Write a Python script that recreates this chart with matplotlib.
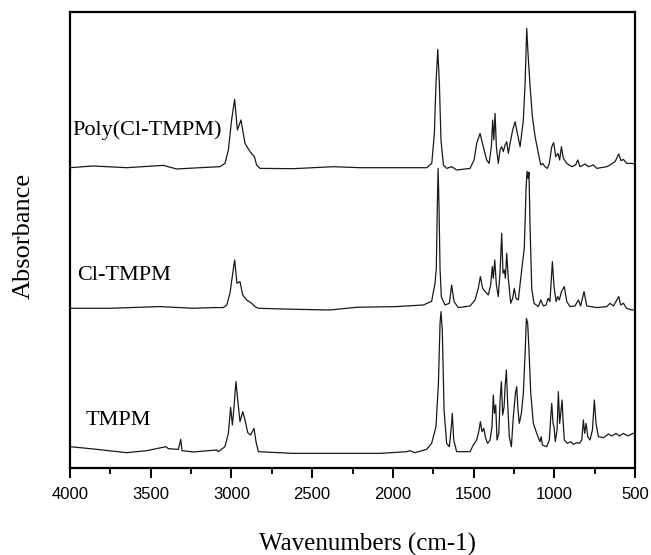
import matplotlib
matplotlib.use('Agg')
from matplotlib import pyplot as plt
from matplotlib.ticker import MultipleLocator

# values: wavenumber (cm-1) and absorbance above each baseline
poly_wn = [4000, 3856, 3649, 3422, 3339, 3195, 3071, 3040, 3019, 2999, 2980, 2963, 2941,
           2916, 2885, 2858, 2844, 2823, 2617, 2369, 2204, 2080, 1790, 1759, 1743, 1733,
           1722, 1712, 1702, 1687, 1667, 1636, 1605, 1522, 1497, 1481, 1460, 1440, 1419,
           1404, 1390, 1382, 1375, 1367, 1359, 1347, 1336, 1326, 1316, 1305, 1295, 1285,
           1270, 1258, 1243, 1229, 1212, 1202, 1192, 1181, 1171, 1163, 1150, 1136, 1119,
           1099, 1084, 1072, 1058, 1043, 1031, 1016, 1004, 991, 977, 967, 956, 944, 923,
           892, 868, 855, 841, 820, 810, 789, 758, 737, 675, 655, 624, 601, 587, 572, 552,
           521, 500]
poly_abs = [0, 1.7, 0, 2.3, -1.3, 0, 1, 4.3, 17.7, 47.7, 68.3, 37.7, 47.7,
            24.3, 16, 11, 2.7, -0.7, -1, 1, 0, 0, 0, 4.3, 34.3, 84.3,
            118.3, 84.3, 27.7, 2.7, -0.7, 1, -2.3, -0.7, 7.7, 24.3, 34.3, 21, 7.7,
            4.3, 21, 47.7, 27.7, 54.3, 21, 4.3, 17.7, 21, 16, 22.7, 26, 14.3,
            27.7, 37.7, 46, 34.3, 21, 34.3, 47.7, 84.3, 139.3, 114.3, 81, 51, 31,
            14.3, 2.7, 4.3, 1, -0.7, 4.3, 21, 25, 11, 14.3, 7.7, 21, 9.3, 4.3,
            1, 2.7, 7.7, 1, 2.7, 3.7, 1, 2.7, -0.7, 1, 2.7, 6, 13.7, 7, 8.3, 4.3,
            4.3, 3.7]

cl_wn = [4000, 3752, 3443, 3236, 3112, 3050, 3029, 3009, 2992, 2980, 2966, 2947, 2930,
         2906, 2875, 2854, 2833, 2617, 2389, 2224, 1976, 1811, 1760, 1739, 1731, 1725,
         1720, 1714, 1708, 1700, 1696, 1677, 1650, 1636, 1621, 1595, 1522, 1491, 1471,
         1458, 1444, 1429, 1409, 1394, 1384, 1378, 1369, 1359, 1347, 1336, 1326, 1318,
         1310, 1303, 1295, 1285, 1270, 1258, 1248, 1237, 1223, 1208, 1196, 1186, 1175,
         1169, 1163, 1157, 1150, 1140, 1126, 1099, 1084, 1068, 1051, 1039, 1027, 1012,
         1002, 989, 979, 969, 956, 938, 923, 903, 872, 851, 837, 816, 799, 737, 675,
         655, 634, 601, 589, 572, 552, 521, 500]
cl_abs = [0, 0, 1.7, 0, 0.7, 0.7, 3.3, 15, 35, 48.3, 25, 26.7, 13.3,
          8.3, 5, 1.7, 0, -1, -1.7, 1, 1.7, 3.3, 7, 25, 40, 100,
          140, 100, 40, 12, 10, 3.3, 5, 23.3, 6.7, 0.7, 2.3, 8.3, 20,
          31.7, 20, 16.7, 13.3, 23.3, 41.7, 30, 48.3, 23.3, 11.7, 36.7, 75, 35,
          38.3, 30, 55, 30, 5, 10, 20, 10, 8.3, 30, 46.7, 60, 120,
          137, 130, 136, 80, 20, 5, 1.7, 8.3, 2.3, 3.3, 10, 6.7, 46.7,
          21.7, 6.7, 11.7, 8.3, 16.7, 21.7, 6.7, 1.7, 2.3, 8.3, 2.3, 16.7, 2.3, 0.7, 1.7,
          5, 2.3, 11.7, 3.3, 5, 0, -1.7, -1.7]

tmpm_wn = [4000, 3856, 3649, 3525, 3405, 3391, 3329, 3314, 3306, 3236, 3091, 3081, 3040,
           3019, 3005, 2994, 2984, 2972, 2961, 2947, 2930, 2916, 2899, 2881, 2860, 2848,
           2833, 2617, 2389, 2080, 1914, 1894, 1863, 1791, 1760, 1733, 1718, 1708, 1702,
           1694, 1683, 1667, 1650, 1638, 1632, 1623, 1605, 1522, 1502, 1481, 1468, 1458,
           1448, 1437, 1425, 1413, 1398, 1386, 1378, 1371, 1363, 1355, 1344, 1336, 1328,
           1320, 1311, 1305, 1297, 1289, 1279, 1266, 1254, 1241, 1233, 1225, 1217, 1204,
           1192, 1181, 1173, 1165, 1157, 1146, 1130, 1109, 1089, 1081, 1074, 1047, 1031,
           1022, 1016, 1008, 1002, 994, 983, 975, 967, 958, 952, 946, 938, 919, 898, 882,
           861, 845, 830, 820, 812, 803, 793, 779, 764, 752, 742, 727, 696, 665, 644, 618,
           597, 572, 545, 521, 500]
tmpm_abs = [6, 3.7, 0, 2, 6, 4, 3.3, 13.3, 2, 0.7, 2.7, 1, 6,
            19.3, 45.3, 27.7, 46, 71, 52.7, 31, 41, 32.7, 20, 17.7, 24.3, 11,
            1, -0.7, -0.7, -0.7, 1, 2, 0, 3.3, 9.3, 26, 69, 129, 141,
            122.7, 42.7, 9.3, 6, 26, 39.3, 12.7, 1, 1, 7.7, 12.7, 21, 31,
            21, 24.3, 14.3, 9.3, 12.7, 26, 57.7, 39.3, 47.7, 12.7, 19.3, 52.7, 71,
            37.7, 46, 66, 82.7, 49.3, 16, 6, 36, 59.3, 66, 42.7, 29.3, 39.3,
            59.3, 99.3, 134.3, 129.3, 102.7, 59.3, 29.3, 19.3, 11, 16, 7.7, 6, 12.7,
            36, 49.3, 29.3, 26, 11, 22.7, 61, 29.3, 42.7, 52.7, 32.7, 12.7, 9.3, 11, 8.3,
            10, 9.3, 12.7, 32.7, 19.3, 29.3, 16, 12.7, 22.7, 52.7, 29.3, 16, 15, 18.7, 16.7, 19.3,
            16.7, 19.3, 16.7, 18.7, 20]

names = ['Poly(Cl-TMPM)', 'Cl-TMPM', 'TMPM']

fig = plt.figure(figsize=(6.51, 5.55), dpi=100)
ax = fig.add_axes([0.1075, 0.1568, 0.868, 0.8207])

# stack the three spectra
offsets = [299.3, 158.7, 14.3]
spectra = [(poly_wn, poly_abs), (cl_wn, cl_abs), (tmpm_wn, tmpm_abs)]
for (wn, ab), off in zip(spectra, offsets):
    ax.plot(wn, [a + off for a in ab], color='#1a1a1a', lw=0.9)

serif = ['Liberation Serif', 'DejaVu Serif']
label_pos = [(3988, 337), (3958, 191), (3901, 46)]
for name, (lx, ly) in zip(names, label_pos):
    ax.text(lx, ly, name, family=serif, fontsize=16, ha='left', va='center')

ax.set_xlim(4000, 500)
ax.set_ylim(-1, 454.5)
ax.set_yticks([])
ax.xaxis.set_major_locator(MultipleLocator(500))
ax.xaxis.set_minor_locator(MultipleLocator(250))
ax.tick_params(axis='x', which='major', direction='out', length=7, width=1.4, pad=7,
               labelsize=12)
ax.tick_params(axis='x', which='minor', direction='out', length=4, width=1.3)
for lab in ax.get_xticklabels():
    lab.set_family(['Liberation Sans', 'DejaVu Sans'])
for sp in ax.spines.values():
    sp.set_linewidth(1.6)

ax.set_xlabel('Wavenumbers (cm-1)', family=serif, fontsize=18)
ax.set_ylabel('Absorbance', family=serif, fontsize=19)
ax.xaxis.set_label_coords(0.527, -0.143)
ax.yaxis.set_label_coords(-0.063, 0.51)

fig.savefig('out.png', dpi=100)
